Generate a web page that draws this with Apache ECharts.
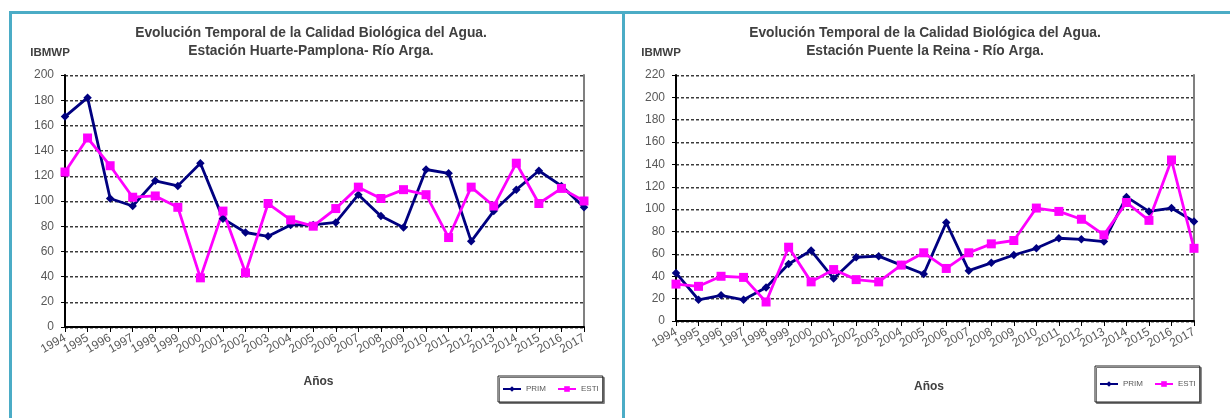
<!DOCTYPE html>
<html>
<head>
<meta charset="utf-8">
<script src="https://cdn.jsdelivr.net/npm/echarts@6/dist/echarts.min.js"></script>
<style>
html,body{margin:0;padding:0;background:#fff;}
#c{width:1230px;height:418px;}
</style>
</head>
<body>
<div id="c"></div>
<script>
const years = ['1994','1995','1996','1997','1998','1999','2000','2001','2002','2003','2004','2005','2006','2007','2008','2009','2010','2011','2012','2013','2014','2015','2016','2017'];
const huartePrim = [167,182,102,96,116,112,130,86,75,72,81,81,83,105,88,79,125,122,68,92,109,124,112,95];
const huarteEsti = [123,150,128,103,104,95,39,92,43,98,85,80,94,111,102,109,105,71,111,96,130,98,110,100];
const reinaPrim = [43,19,23,19,30,51,63,38,57,58,50,42,88,45,52,59,65,74,73,71,111,98,101,89];
const reinaEsti = [33,31,40,39,17,66,35,46,37,35,50,61,47,61,69,72,101,98,91,77,106,90,144,65];
const titleLine1 = 'Evolución Temporal de la Calidad Biológica del Agua.';
const titleHuarte = 'Estación Huarte-Pamplona- Río Arga.';
const titleReina = 'Estación Puente la Reina - Río Arga.';
const seriesNames = ['PRIM','ESTI'];
const yNameText = 'IBMWP';
const xNameText = 'Años';
const yMaxHuarte = 200;
const yMaxReina = 220;

const FONT = '"Liberation Sans", Arial, sans-serif';
const PRIM_COLOR = '#000080';
const ESTI_COLOR = '#FF00FF';
const BORDER = '#4BACC6';

function bottomX(gridIndex, nameGap) {
  return {
    type: 'category', gridIndex: gridIndex, data: years, boundaryGap: false, position: 'bottom',
    name: xNameText, nameLocation: 'middle', nameGap: nameGap,
    nameTextStyle: {fontFamily: FONT, fontSize: 12, fontWeight: 'bold', color: '#404040', padding: [0, 12, 0, 0]},
    axisLine: {lineStyle: {color: '#000', width: 2}},
    axisTick: {show: true, length: 5, lineStyle: {color: '#000', width: 1}},
    axisLabel: {rotate: 30, margin: 10, fontFamily: FONT, fontSize: 12, color: '#595959', interval: 0},
    splitLine: {show: false}
  };
}
function topX(gridIndex) {
  return {
    type: 'category', gridIndex: gridIndex, data: years, boundaryGap: false, position: 'top',
    axisLine: {lineStyle: {color: '#000', width: 1}},
    axisTick: {show: false}, axisLabel: {show: false}, splitLine: {show: false}
  };
}
function leftY(gridIndex, max, margin) {
  return {
    type: 'value', gridIndex: gridIndex, min: 0, max: max, interval: 20, position: 'left',
    name: yNameText, nameLocation: 'end', nameGap: 16,
    nameTextStyle: {fontFamily: FONT, fontSize: 11.5, fontWeight: 'bold', color: '#404040', align: 'center', padding: [0, 30, 0, 0]},
    axisLine: {show: true, lineStyle: {color: '#000', width: 2}},
    axisTick: {show: true, length: 4, lineStyle: {color: '#000', width: 1}},
    axisLabel: {margin: margin, fontFamily: FONT, fontSize: 12, color: '#595959'},
    splitLine: {show: true, lineStyle: {color: '#3a3a3a', width: 1, type: [3, 2], shadowColor: '#a0a0a0', shadowOffsetY: 1}}
  };
}
function rightY(gridIndex, max) {
  return {
    type: 'value', gridIndex: gridIndex, min: 0, max: max, interval: 20, position: 'right',
    axisLine: {show: true, lineStyle: {color: '#808080', width: 2}},
    axisTick: {show: false}, axisLabel: {show: false}, splitLine: {show: false}
  };
}
function lineSeries(name, data, xi, yi, color, symbol, size) {
  return {
    type: 'line', name: name, data: data, xAxisIndex: xi, yAxisIndex: yi,
    symbol: symbol, symbolSize: size, showSymbol: true,
    lineStyle: {color: color, width: 2.8}, itemStyle: {color: color},
    emphasis: {disabled: true}, animation: false
  };
}
function legend(left, top, padV) {
  return {
    left: left, top: top, orient: 'horizontal',
    data: seriesNames,
    padding: [padV, 4], itemGap: 11, itemWidth: 18, itemHeight: 7,
    borderColor: '#222', borderWidth: 1, backgroundColor: '#fff',
    shadowColor: '#777', shadowOffsetX: 1.5, shadowOffsetY: 1.5, shadowBlur: 0,
    textStyle: {fontFamily: FONT, fontSize: 8, color: '#595959'}
  };
}

const chart = echarts.init(document.getElementById('c'), null, {renderer: 'canvas'});
chart.setOption({
  backgroundColor: '#fff',
  animation: false,
  title: [
    {text: titleLine1 + '\n' + titleHuarte, left: 311, top: 24, padding: 0, textAlign: 'center',
     textStyle: {fontFamily: FONT, fontSize: 13.8, fontWeight: 'bold', color: '#404040', lineHeight: 18}},
    {text: titleLine1 + '\n' + titleReina, left: 925, top: 24, padding: 0, textAlign: 'center',
     textStyle: {fontFamily: FONT, fontSize: 13.8, fontWeight: 'bold', color: '#404040', lineHeight: 18}}
  ],
  legend: [
    legend(498, 376, 9),
    legend(1095, 366, 14)
  ],
  grid: [
    {left: 65, top: 75, width: 519, height: 252, containLabel: false},
    {left: 676, top: 75, width: 518, height: 246, containLabel: false}
  ],
  xAxis: [bottomX(0, 49), topX(0), bottomX(1, 60), topX(1)],
  yAxis: [leftY(0, yMaxHuarte, 11), rightY(0, yMaxHuarte), leftY(1, yMaxReina, 11), rightY(1, yMaxReina)],
  series: [
    lineSeries(seriesNames[0], huartePrim, 0, 0, PRIM_COLOR, 'diamond', 8.5),
    lineSeries(seriesNames[1], huarteEsti, 0, 0, ESTI_COLOR, 'rect', 9),
    lineSeries(seriesNames[0], reinaPrim, 2, 2, PRIM_COLOR, 'diamond', 8.5),
    lineSeries(seriesNames[1], reinaEsti, 2, 2, ESTI_COLOR, 'rect', 9)
  ],
  graphic: [
    {type: 'rect', shape: {x: 9, y: 11, width: 1221, height: 3}, style: {fill: BORDER}, silent: true},
    {type: 'rect', shape: {x: 9, y: 11, width: 3, height: 407}, style: {fill: BORDER}, silent: true},
    {type: 'rect', shape: {x: 622, y: 11, width: 3, height: 407}, style: {fill: BORDER}, silent: true}
  ]
});
</script>
</body>
</html>
